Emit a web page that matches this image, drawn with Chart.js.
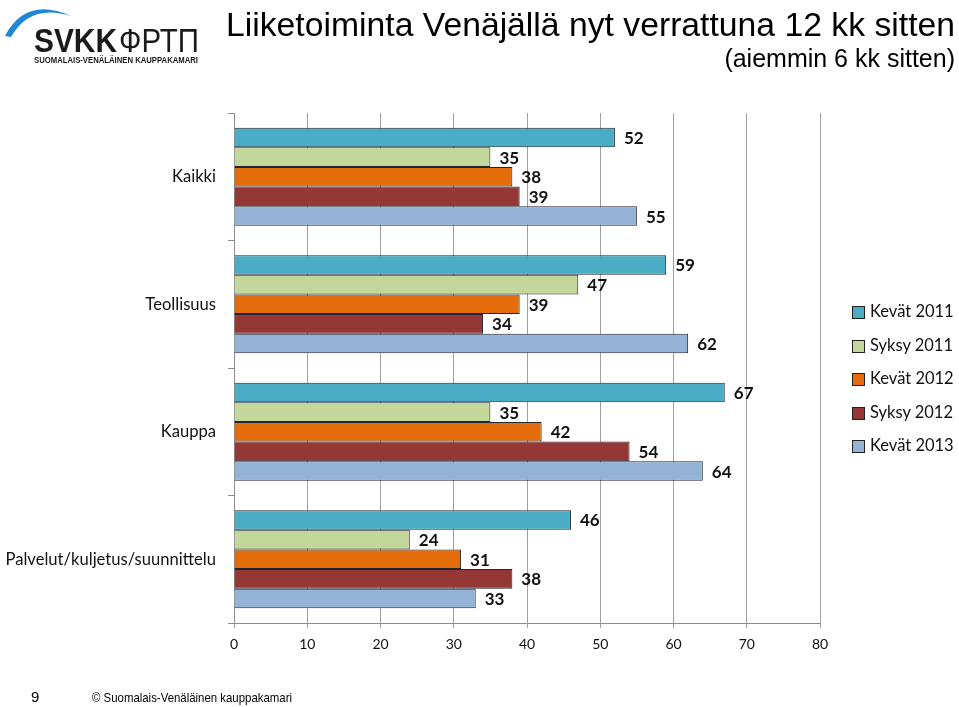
<!DOCTYPE html>
<html>
<head>
<meta charset="utf-8">
<script src="https://cdn.jsdelivr.net/npm/chart.js@4.4.0/dist/chart.umd.min.js"></script>
<style>
  html, body { margin: 0; padding: 0; background: #fff; }
  #wrap { position: relative; width: 959px; height: 707px; overflow: hidden; }
  #myChart { position: absolute; left: 0; top: 0; }
  #overlay { position: absolute; left: 0; top: 0; pointer-events: none; }
  #legend { position: absolute; left: 852px; top: 301px; font-family: Lato, sans-serif; font-size: 16.5px; color: #111; }
  #legend div { height: 33.5px; display: flex; align-items: flex-start; }
  #legend span.box { display: inline-block; width: 11px; height: 11px; border: 1px solid #222; margin: 5px 5px 0 0; }
</style>
</head>
<body>
<div id="wrap">
  <canvas id="myChart" width="959" height="707"></canvas>
  <svg id="overlay" width="959" height="707">
    <!-- logo -->
    <path d="M5 36 Q26 -4 71 16 Q30 3 11 37 Z" fill="#1e88d4"/>
    <text x="34" y="52" font-family="Liberation Sans" font-weight="bold" font-size="34" fill="#1a1a1a" textLength="83" lengthAdjust="spacingAndGlyphs">SVKK</text>
    <text x="119" y="52" font-family="Liberation Sans" font-size="34" fill="#1a1a1a" textLength="80" lengthAdjust="spacingAndGlyphs">ФРТП</text>
    <text x="34" y="63" font-family="Liberation Sans" font-weight="bold" font-size="9" fill="#1a1a1a" textLength="164" lengthAdjust="spacingAndGlyphs">SUOMALAIS-VENÄLÄINEN KAUPPAKAMARI</text>
    <!-- title -->
    <text x="226" y="36" font-family="Liberation Sans" font-size="33" fill="#000" textLength="729" lengthAdjust="spacingAndGlyphs">Liiketoiminta Venäjällä nyt verrattuna 12 kk sitten</text>
    <text x="955" y="67" text-anchor="end" font-family="Liberation Sans" font-size="25" fill="#000">(aiemmin 6 kk sitten)</text>
    <!-- footer -->
    <text x="31" y="702" font-family="Liberation Sans" font-size="15" fill="#000">9</text>
    <text x="92" y="702" font-family="Liberation Sans" font-size="13" fill="#000" textLength="200" lengthAdjust="spacingAndGlyphs">© Suomalais-Venäläinen kauppakamari</text>
  </svg>
  <div id="legend"></div>
</div>
<script>
var categories = ["Kaikki", "Teollisuus", "Kauppa", "Palvelut/kuljetus/suunnittelu"];
var seriesNames = ["Kevät 2011", "Syksy 2011", "Kevät 2012", "Syksy 2012", "Kevät 2013"];
var kevat2011 = [52, 59, 67, 46];
var syksy2011 = [35, 47, 35, 24];
var kevat2012 = [38, 39, 42, 31];
var syksy2012 = [39, 34, 54, 38];
var kevat2013 = [55, 62, 64, 33];
var xTicks = [0, 10, 20, 30, 40, 50, 60, 70, 80];

var seriesValues = [kevat2011, syksy2011, kevat2012, syksy2012, kevat2013];
var barColors = ["#4BACC6", "#C4D79B", "#E46C0A", "#953735", "#95B3D7"];

// value labels right of each bar end
var valueLabels = {
  id: "valueLabels",
  afterDatasetsDraw: function(chart) {
    var ctx = chart.ctx;
    ctx.save();
    ctx.font = "bold 17px Lato, sans-serif";
    ctx.fillStyle = "#111";
    ctx.textAlign = "left";
    ctx.textBaseline = "middle";
    chart.data.datasets.forEach(function(ds, i) {
      chart.getDatasetMeta(i).data.forEach(function(bar, j) {
        ctx.fillText(ds.data[j], bar.x + 9, bar.y + 1);
      });
    });
    ctx.restore();
  }
};

var myChart = new Chart("myChart", {
  type: "bar",
  data: {
    labels: categories,
    datasets: seriesNames.map(function(name, i) {
      return {
        label: name,
        data: seriesValues[i],
        backgroundColor: barColors[i],
        borderColor: "#1e2533",
        borderWidth: 1,
        categoryPercentage: 0.77,
        barPercentage: 1
      };
    })
  },
  options: {
    indexAxis: "y",
    responsive: false,
    animation: false,
    layout: { padding: { left: 0, right: 139, top: 113, bottom: 44 } },
    plugins: { legend: { display: false }, tooltip: { enabled: false } },
    scales: {
      x: {
        min: 0, max: 80,
        afterBuildTicks: function(s) { s.ticks = xTicks.map(function(v) { return { value: v }; }); },
        afterFit: function(s) { s.height = 40; },
        grid: { color: "#a0a0a0", tickLength: 5 },
        border: { color: "#8c8c8c" },
        ticks: { color: "#111", padding: 8, font: { family: "Lato", size: 14 } }
      },
      y: {
        afterFit: function(s) { s.width = 234; },
        grid: { drawOnChartArea: false, color: "#8c8c8c", tickLength: 6 },
        border: { color: "#8c8c8c" },
        ticks: { color: "#111", padding: 12, font: { family: "Lato", size: 16.6 } }
      }
    }
  },
  plugins: [valueLabels]
});

// legend built from datasets
var leg = document.getElementById("legend");
myChart.data.datasets.forEach(function(ds) {
  var row = document.createElement("div");
  row.innerHTML = '<span class="box" style="background:' + ds.backgroundColor + '"></span>' + ds.label;
  leg.appendChild(row);
});
</script>
</body>
</html>
